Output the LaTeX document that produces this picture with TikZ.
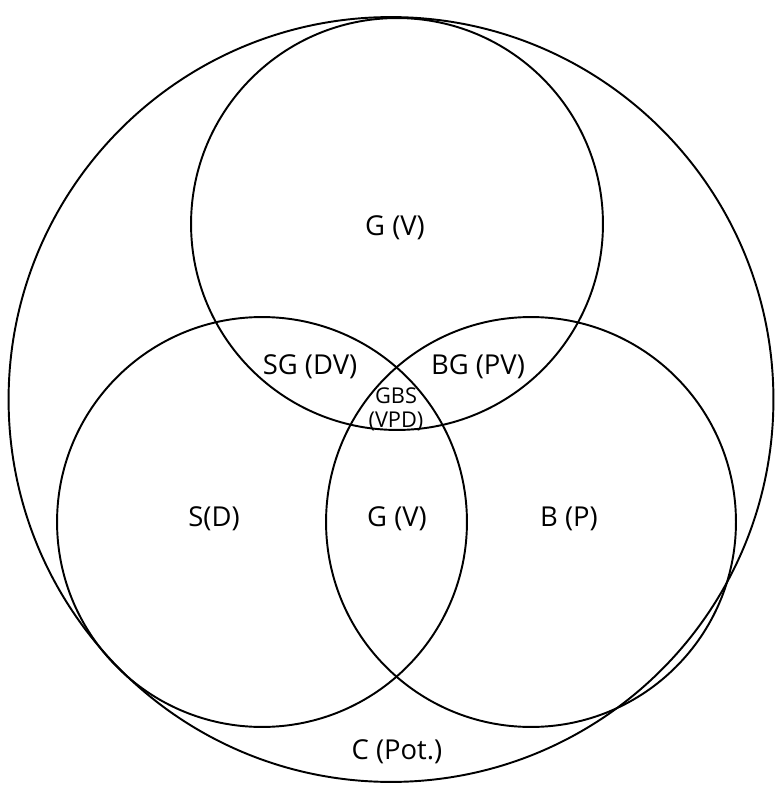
\documentclass[tikz,border=0pt]{standalone}
\usepackage{fontspec}
\setmainfont{Open Sans}
\usetikzlibrary{positioning}
\tikzset{
  % mengen
  ring/.style={draw=black,line width=1.1pt},
  lbl/.style={font=\fontsize{15.6}{18}\selectfont,inner sep=0pt},
  lbls/.style={font=\fontsize{12.4}{13.6}\selectfont,inner sep=0pt,align=center},
}
\begin{document}
\begin{tikzpicture}[x=0.02cm,y=-0.02cm]
  \useasboundingbox (0,0) rectangle (774,787);
  \coordinate (cC) at (391,399.5);
  \coordinate (cG) at (397,224);
  \coordinate (cS) at (262,522);
  \coordinate (cB) at (531,522);
  \draw[ring] (cC) circle[radius=7.65cm];
  \draw[ring] (cG) circle[radius=4.12cm];
  \draw[ring] (cS) circle[radius=4.1cm];
  \draw[ring] (cB) circle[radius=4.1cm];
  \node[lbl] (g) at (395,228) {G (V)};
  \node[lbl] (sg) at (310,367) {SG (DV)};
  \node[lbl] (bg) at (478,367) {BG (PV)};
  \node[lbls] (gbs) at (396,409) {GBS\\(VPD)};
  \node[lbl] (s) at (214,519) {S(D)};
  \node[lbl] (gm) at (397,519) {G (V)};
  \node[lbl] (b) at (569,519) {B (P)};
  \node[lbl] (c) at (397,752) {C (Pot.)};
\end{tikzpicture}
\end{document}
